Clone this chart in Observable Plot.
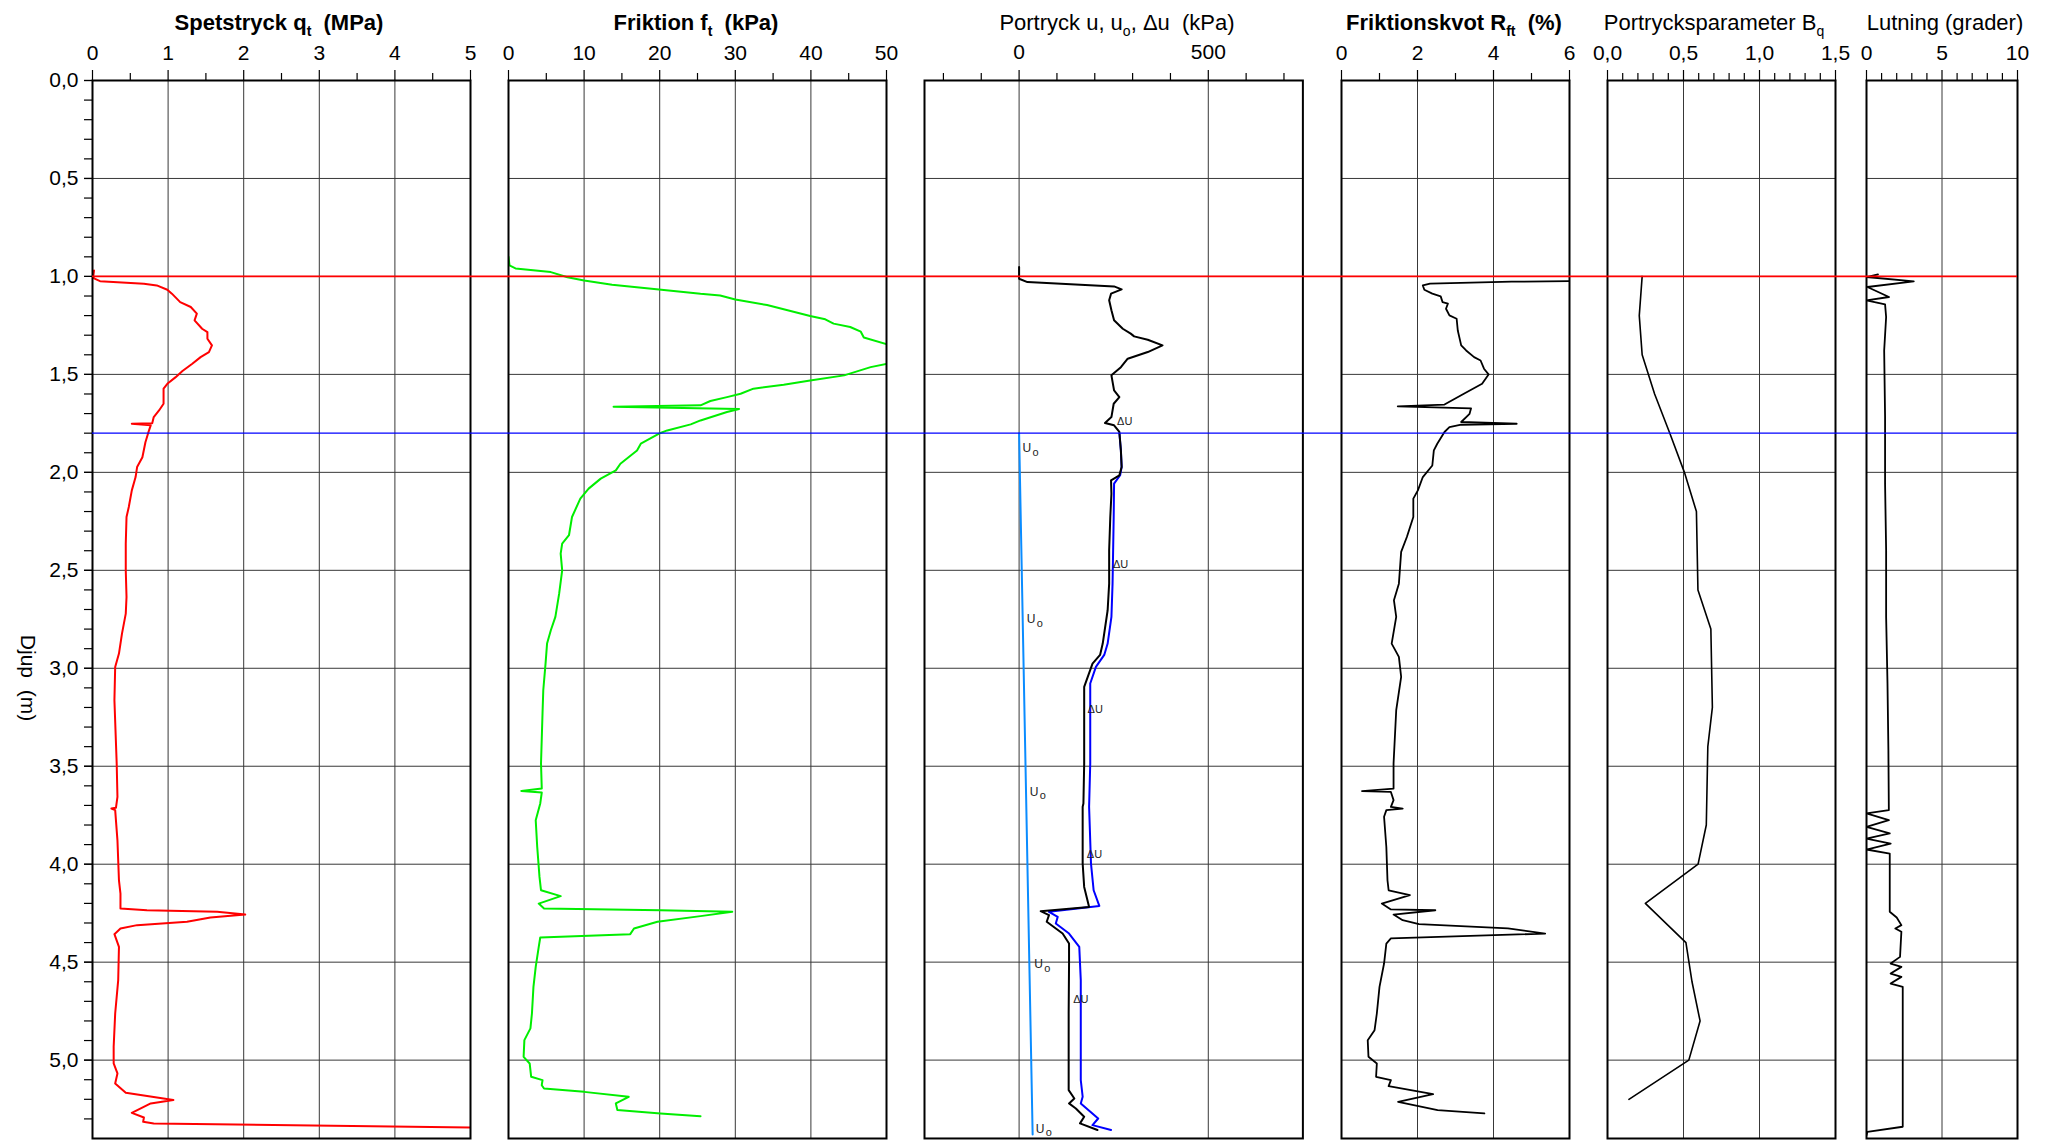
<!DOCTYPE html>
<html>
<head>
<meta charset="utf-8">
<script src="https://cdn.jsdelivr.net/npm/d3@7"></script>
<script src="https://cdn.jsdelivr.net/npm/@observablehq/plot@0.6"></script>
<style>
  html, body { margin: 0; padding: 0; background: #fff; }
  #chart { position: relative; width: 2049px; height: 1144px; overflow: hidden; background: #fff; }
</style>
</head>
<body>
<div id="chart"></div>
<script>
// ---------------- DATA (depth in m, value) ----------------
const depthLabels = [0, 0.5, 1.0, 1.5, 2.0, 2.5, 3.0, 3.5, 4.0, 4.5, 5.0];

const qtTicks = [0, 1, 2, 3, 4, 5];
const ftTicks = [0, 10, 20, 30, 40, 50];
const uTicks = [0, 500];
const rfTicks = [0, 2, 4, 6];
const bqTicks = [0, 0.5, 1.0, 1.5];
const lutTicks = [0, 5, 10];

const redLevel = [1.0];
const blueLevel = [1.8];

// Spetstryck qt (MPa)
const qt = [
[0.97,0.02],[1.0,0.01],[1.01,0.02],[1.024,0.10],[1.037,0.68],[1.046,0.85],[1.068,0.99],[1.088,1.05],[1.131,1.16],[1.156,1.30],[1.19,1.38],[1.224,1.35],[1.267,1.45],[1.284,1.52],[1.318,1.52],[1.352,1.58],[1.386,1.54],[1.412,1.43],[1.446,1.32],[1.483,1.19],[1.514,1.10],[1.548,0.99],[1.573,0.94],[1.65,0.94],[1.684,0.88],[1.718,0.81],[1.749,0.79],[1.752,0.52],[1.760,0.77],[1.795,0.74],[1.846,0.70],[1.923,0.66],[1.973,0.59],[2.024,0.57],[2.092,0.52],[2.177,0.48],[2.228,0.45],[2.364,0.44],[2.5,0.44],[2.636,0.45],[2.721,0.44],[2.823,0.39],[2.925,0.35],[2.993,0.30],[3.163,0.29],[3.486,0.32],[3.656,0.33],[3.712,0.31],[3.716,0.25],[3.724,0.30],[3.878,0.33],[4.082,0.35],[4.15,0.37],[4.226,0.37],[4.235,0.72],[4.243,1.65],[4.257,2.02],[4.272,1.56],[4.294,1.25],[4.311,0.59],[4.328,0.37],[4.357,0.29],[4.422,0.35],[4.592,0.34],[4.762,0.30],[4.932,0.28],[5.017,0.28],[5.068,0.33],[5.119,0.30],[5.167,0.44],[5.196,0.94],[5.204,1.07],[5.221,0.77],[5.269,0.52],[5.293,0.68],[5.315,0.67],[5.323,0.81],[5.344,5.0]
];

// Friktion ft (kPa)
const ft = [
[0.90,0.0],[0.944,0.13],[0.959,0.93],[0.978,5.6],[1.004,7.8],[1.021,10.0],[1.042,13.7],[1.067,19.9],[1.089,25.4],[1.097,28.0],[1.118,30.0],[1.146,34.2],[1.180,37.7],[1.202,39.9],[1.219,41.9],[1.241,43.0],[1.258,45.2],[1.282,46.6],[1.312,47.0],[1.346,50.0],[1.39,56],[1.446,50.0],[1.463,47.9],[1.505,44.4],[1.531,39.9],[1.553,36.4],[1.573,32.4],[1.599,30.7],[1.616,28.9],[1.636,26.7],[1.658,25.4],[1.665,13.9],[1.677,30.5],[1.692,28.9],[1.735,25.4],[1.755,24.1],[1.786,21.0],[1.799,20.1],[1.854,17.5],[1.888,17.0],[1.956,14.8],[1.990,14.2],[2.032,12.2],[2.083,10.6],[2.134,9.5],[2.228,8.4],[2.321,8.0],[2.364,7.1],[2.415,6.9],[2.5,7.1],[2.619,6.7],[2.738,6.2],[2.806,5.6],[2.874,5.1],[2.976,4.9],[3.112,4.6],[3.231,4.5],[3.486,4.3],[3.614,4.4],[3.626,1.7],[3.634,4.4],[3.69,4.2],[3.776,3.6],[3.912,3.8],[4.065,4.1],[4.133,4.3],[4.163,6.9],[4.201,4.0],[4.226,4.7],[4.235,20.1],[4.243,29.6],[4.265,25.4],[4.294,19.7],[4.328,16.6],[4.357,16.1],[4.374,4.2],[4.422,4.0],[4.524,3.6],[4.626,3.3],[4.762,3.1],[4.838,2.9],[4.898,2.1],[4.983,2.0],[5.017,2.8],[5.085,3.0],[5.102,4.5],[5.128,4.4],[5.145,4.7],[5.162,10.0],[5.187,15.9],[5.221,14.2],[5.255,14.4],[5.272,20.1],[5.286,25.4]
];

// Portryck u (kPa), black
const uMeasured = [
[0.952,0],[1.012,0],[1.029,22],[1.051,251],[1.066,271],[1.088,243],[1.122,238],[1.173,244],[1.224,251],[1.267,274],[1.292,295],[1.306,304],[1.323,340],[1.352,379],[1.386,340],[1.420,287],[1.463,269],[1.505,244],[1.582,251],[1.616,265],[1.650,250],[1.718,244],[1.748,227],[1.760,251],[1.794,265],[1.888,269],[1.973,271],[2.015,265],[2.041,243],[2.109,244],[2.228,241],[2.398,238],[2.568,238],[2.704,234],[2.874,221],[2.932,214],[2.976,194],[3.095,172],[3.486,172],[3.690,170],[3.707,168],[3.997,168],[4.116,172],[4.218,185],[4.240,57],[4.260,79],[4.294,73],[4.354,115],[4.405,132],[4.507,132],[4.762,131],[5.153,131],[5.196,146],[5.221,132],[5.247,150],[5.289,172],[5.323,161],[5.357,207]
];

// Δu curve (kPa), blue
const uDelta = [
[1.80,265],[1.888,269],[1.973,271],[2.015,267],[2.058,251],[2.228,250],[2.568,247],[2.738,244],[2.874,234],[2.932,225],[2.993,203],[3.078,188],[3.486,188],[3.707,185],[3.997,190],[4.133,197],[4.213,212],[4.243,79],[4.269,102],[4.303,97],[4.354,132],[4.422,159],[4.592,163],[5.102,163],[5.187,168],[5.221,163],[5.298,209],[5.332,194],[5.357,243]
];

// u0 (kPa), light blue
const uZero = [[1.8,0],[2.5,7],[3.5,17],[4.5,27],[5.38,35.8]];

// curve label anchors [depth, kPa]
const uoLabelPos = [[1.876,9],[2.75,20],[3.63,28],[4.51,40],[5.35,44]];
const duLabelPos = [[1.738,259],[2.47,248],[3.21,181],[3.95,179],[4.69,143]];

// Friktionskvot Rft (%)
const rft = [
[1.024,6.0],[1.027,4.48],[1.037,2.33],[1.046,2.14],[1.068,2.18],[1.088,2.39],[1.102,2.61],[1.131,2.66],[1.139,2.80],[1.165,2.75],[1.199,2.84],[1.216,3.03],[1.276,3.06],[1.352,3.15],[1.378,3.28],[1.412,3.49],[1.429,3.66],[1.471,3.75],[1.5,3.87],[1.548,3.70],[1.599,3.22],[1.654,2.71],[1.663,1.48],[1.673,3.41],[1.701,3.37],[1.743,3.15],[1.752,4.61],[1.757,3.15],[1.769,2.84],[1.794,2.71],[1.854,2.52],[1.888,2.43],[1.965,2.39],[2.024,2.14],[2.092,2.01],[2.134,1.89],[2.228,1.89],[2.33,1.72],[2.406,1.57],[2.568,1.51],[2.653,1.38],[2.738,1.44],[2.874,1.32],[2.942,1.51],[3.044,1.57],[3.214,1.44],[3.486,1.37],[3.614,1.37],[3.627,0.54],[3.631,1.30],[3.673,1.37],[3.707,1.30],[3.716,1.61],[3.724,1.18],[3.758,1.12],[3.912,1.18],[4.082,1.21],[4.133,1.24],[4.158,1.80],[4.201,1.06],[4.231,1.30],[4.235,2.47],[4.257,1.37],[4.286,1.61],[4.306,2.04],[4.328,4.38],[4.354,5.36],[4.379,1.30],[4.405,1.18],[4.507,1.12],[4.626,1.00],[4.762,0.93],[4.847,0.87],[4.898,0.69],[4.983,0.71],[5.017,0.93],[5.085,0.91],[5.102,1.30],[5.133,1.24],[5.174,2.41],[5.213,1.49],[5.255,2.53],[5.272,3.76]
];

// Portrycksparameter Bq
const bq = [
[1.0,0.228],[1.2,0.209],[1.4,0.228],[1.6,0.31],[1.8,0.41],[2.0,0.506],[2.2,0.585],[2.6,0.595],[2.8,0.68],[3.2,0.69],[3.4,0.66],[3.8,0.65],[4.0,0.596],[4.2,0.249],[4.4,0.516],[4.6,0.556],[4.8,0.609],[5.0,0.535],[5.2,0.141]
];

// Lutning (grader)
const lutning = [
[0.99,0.76],[1.003,0],[1.025,3.13],[1.054,0.06],[1.105,1.49],[1.122,0],[1.143,1.23],[1.207,1.30],[1.378,1.17],[1.718,1.23],[2.058,1.23],[2.398,1.30],[2.738,1.30],[3.078,1.39],[3.418,1.45],[3.724,1.48],[3.741,0],[3.775,1.48],[3.809,0],[3.843,1.54],[3.869,0],[3.895,1.6],[3.925,0],[3.946,1.54],[4.243,1.54],[4.272,2.0],[4.311,2.31],[4.328,1.91],[4.345,2.31],[4.473,2.22],[4.507,1.6],[4.524,2.31],[4.558,1.6],[4.575,2.31],[4.609,1.6],[4.626,2.4],[5.34,2.4],[5.366,0.06],[5.383,0]
];

// ---------------- LAYOUT ----------------
const W = 2049, H = 1144, TOP = 80, BOTTOM = 1138, DMAX = 5.4;
const FONT = "'Liberation Sans', Arial, Helvetica, sans-serif";
const GRID = "#383838";
const chart = document.getElementById("chart");
const comma1 = d => d.toFixed(1).replace(".", ",");
const plain = d => String(d);
const blank = () => "";
const X = d => d[1], Y = d => d[0];

const depthGrid = depthLabels.filter(d => d > 0);
const depthMinor = d3.range(0, 5.35, 0.1).map(d => +d.toFixed(1));

function addPanel(cfg) {
  const mL = cfg.yAxis ? cfg.left : 24, mR = 24;
  const marks = [
    Plot.gridX(cfg.grid, {stroke: GRID, strokeOpacity: 1, strokeWidth: 1}),
    Plot.gridY(depthGrid, {stroke: GRID, strokeOpacity: 1, strokeWidth: 1}),
    ...cfg.marks,
    Plot.axisX(cfg.minor, {anchor: "top", tickSize: 8, tickFormat: blank, label: null, strokeWidth: 1.2}),
    Plot.axisX(cfg.major, {anchor: "top", tickSize: 11, tickPadding: 10, tickFormat: cfg.fmt, label: null, fontSize: 21, strokeWidth: 1.2}),
    Plot.frame({stroke: "#000", strokeWidth: 2})
  ];
  if (cfg.yAxis) {
    marks.push(
      Plot.axisY(depthMinor, {anchor: "left", tickSize: 8, tickFormat: blank, label: null, strokeWidth: 1.2}),
      Plot.axisY(depthLabels, {anchor: "left", tickSize: 8, tickPadding: 6, tickFormat: comma1, label: null, fontSize: 21, strokeWidth: 1.2})
    );
  }
  const yOpts = {domain: [0, DMAX], reverse: true};
  if (!cfg.yAxis) yOpts.axis = null;
  const svg = Plot.plot({
    width: cfg.right - cfg.left + mL + mR,
    height: H,
    marginLeft: mL, marginRight: mR, marginTop: TOP, marginBottom: H - BOTTOM,
    x: {domain: cfg.domain},
    y: yOpts,
    style: {fontFamily: FONT, fontSize: "21px", color: "#000", background: "transparent", overflow: "visible"},
    marks
  });
  svg.style.position = "absolute";
  svg.style.left = (cfg.left - mL) + "px";
  svg.style.top = "0px";
  chart.appendChild(svg);
}

const lineOpts = (stroke, w) => ({x: X, y: Y, stroke, strokeWidth: w, clip: true, strokeLinejoin: "round"});

const panels = [
  {left: 92, right: 470, domain: [0, 5], major: qtTicks, minor: [0.5, 1.5, 2.5, 3.5, 4.5], grid: qtTicks.slice(1, -1), fmt: plain, yAxis: true,
   marks: [Plot.line(qt, lineOpts("#ff0000", 2))]},
  {left: 508, right: 886, domain: [0, 50], major: ftTicks, minor: [5, 15, 25, 35, 45], grid: ftTicks.slice(1, -1), fmt: plain,
   marks: [Plot.line(ft, lineOpts("#00ee00", 2))]},
  {left: 924.3, right: 1302.7, domain: [-250, 750], major: uTicks, minor: [-200, -100, 100, 200, 300, 400, 600, 700], grid: uTicks, fmt: plain,
   marks: [
     Plot.line(uZero, lineOpts("#0a8cff", 2)),
     Plot.line(uDelta, lineOpts("#0000ff", 2)),
     Plot.line(uMeasured, lineOpts("#000000", 2)),
     Plot.text(uoLabelPos, {x: X, y: Y, text: () => "U", textAnchor: "start", fontSize: 12, fill: "#222"}),
     Plot.text(uoLabelPos, {x: X, y: Y, text: () => "o", textAnchor: "start", fontSize: 11, dx: 10, dy: 4, fill: "#222"}),
     Plot.text(duLabelPos, {x: X, y: Y, text: () => "ΔU", textAnchor: "start", fontSize: 11, fill: "#222"})
   ]},
  {left: 1341, right: 1569, domain: [0, 6], major: rfTicks, minor: [1, 3, 5], grid: rfTicks.slice(1, -1), fmt: plain,
   marks: [Plot.line(rft, lineOpts("#000", 1.8))]},
  {left: 1607, right: 1835, domain: [0, 1.5], major: bqTicks, minor: [0.1,0.2,0.3,0.4,0.6,0.7,0.8,0.9,1.1,1.2,1.3,1.4], grid: bqTicks.slice(1, -1), fmt: comma1,
   marks: [Plot.line(bq, lineOpts("#000", 1.6))]},
  {left: 1866, right: 2017, domain: [0, 10], major: lutTicks, minor: [1,2,3,4,6,7,8,9], grid: lutTicks.slice(1, -1), fmt: plain,
   marks: [Plot.line(lutning, lineOpts("#000", 1.8))]}
];
panels.forEach(addPanel);

// overlay: reference levels across all panels
const levels = Plot.plot({
  width: W, height: H,
  marginLeft: 92, marginRight: W - 2017, marginTop: TOP, marginBottom: H - BOTTOM,
  y: {domain: [0, DMAX], reverse: true, axis: null},
  style: {background: "transparent", overflow: "visible"},
  marks: [
    Plot.ruleY(redLevel, {stroke: "#ff0000", strokeWidth: 1.8}),
    Plot.ruleY(blueLevel, {stroke: "#0000ff", strokeWidth: 1.3})
  ]
});
levels.style.position = "absolute"; levels.style.left = "0px"; levels.style.top = "0px";
levels.style.pointerEvents = "none";
chart.appendChild(levels);

// titles and depth label
const titleDefs = [
  {cx: 279, bold: true, parts: [["Spetstryck q"], ["t", 1], ["  (MPa)"]]},
  {cx: 696, bold: true, parts: [["Friktion f"], ["t", 1], ["  (kPa)"]]},
  {cx: 1117, bold: false, parts: [["Portryck u, u"], ["o", 1], [", Δu  (kPa)"]]},
  {cx: 1454, bold: true, parts: [["Friktionskvot R"], ["ft", 1], ["  (%)"]]},
  {cx: 1714, bold: false, parts: [["Portrycksparameter B"], ["q", 1]]},
  {cx: 1945, bold: false, parts: [["Lutning (grader)"]]}
];
const ov = d3.create("svg")
  .attr("width", W).attr("height", H)
  .style("position", "absolute").style("left", "0px").style("top", "0px")
  .style("pointer-events", "none")
  .style("font-family", FONT);
titleDefs.forEach(t => {
  const txt = ov.append("text")
    .attr("x", t.cx).attr("y", 30)
    .attr("text-anchor", "middle")
    .attr("font-size", 22)
    .attr("font-weight", t.bold ? "bold" : "normal")
    .attr("fill", "#000")
    .style("white-space", "pre");
  let lowered = false;
  t.parts.forEach(([s, sub]) => {
    const ts = txt.append("tspan").text(s);
    if (sub) { ts.attr("font-size", 14).attr("dy", 6); lowered = true; }
    else if (lowered) { ts.attr("dy", -6); lowered = false; }
  });
});
ov.append("text")
  .attr("transform", "translate(21,678) rotate(90)")
  .attr("text-anchor", "middle")
  .attr("font-size", 21)
  .attr("fill", "#000")
  .style("white-space", "pre")
  .text("Djup  (m)");
chart.appendChild(ov.node());
</script>
</body>
</html>
